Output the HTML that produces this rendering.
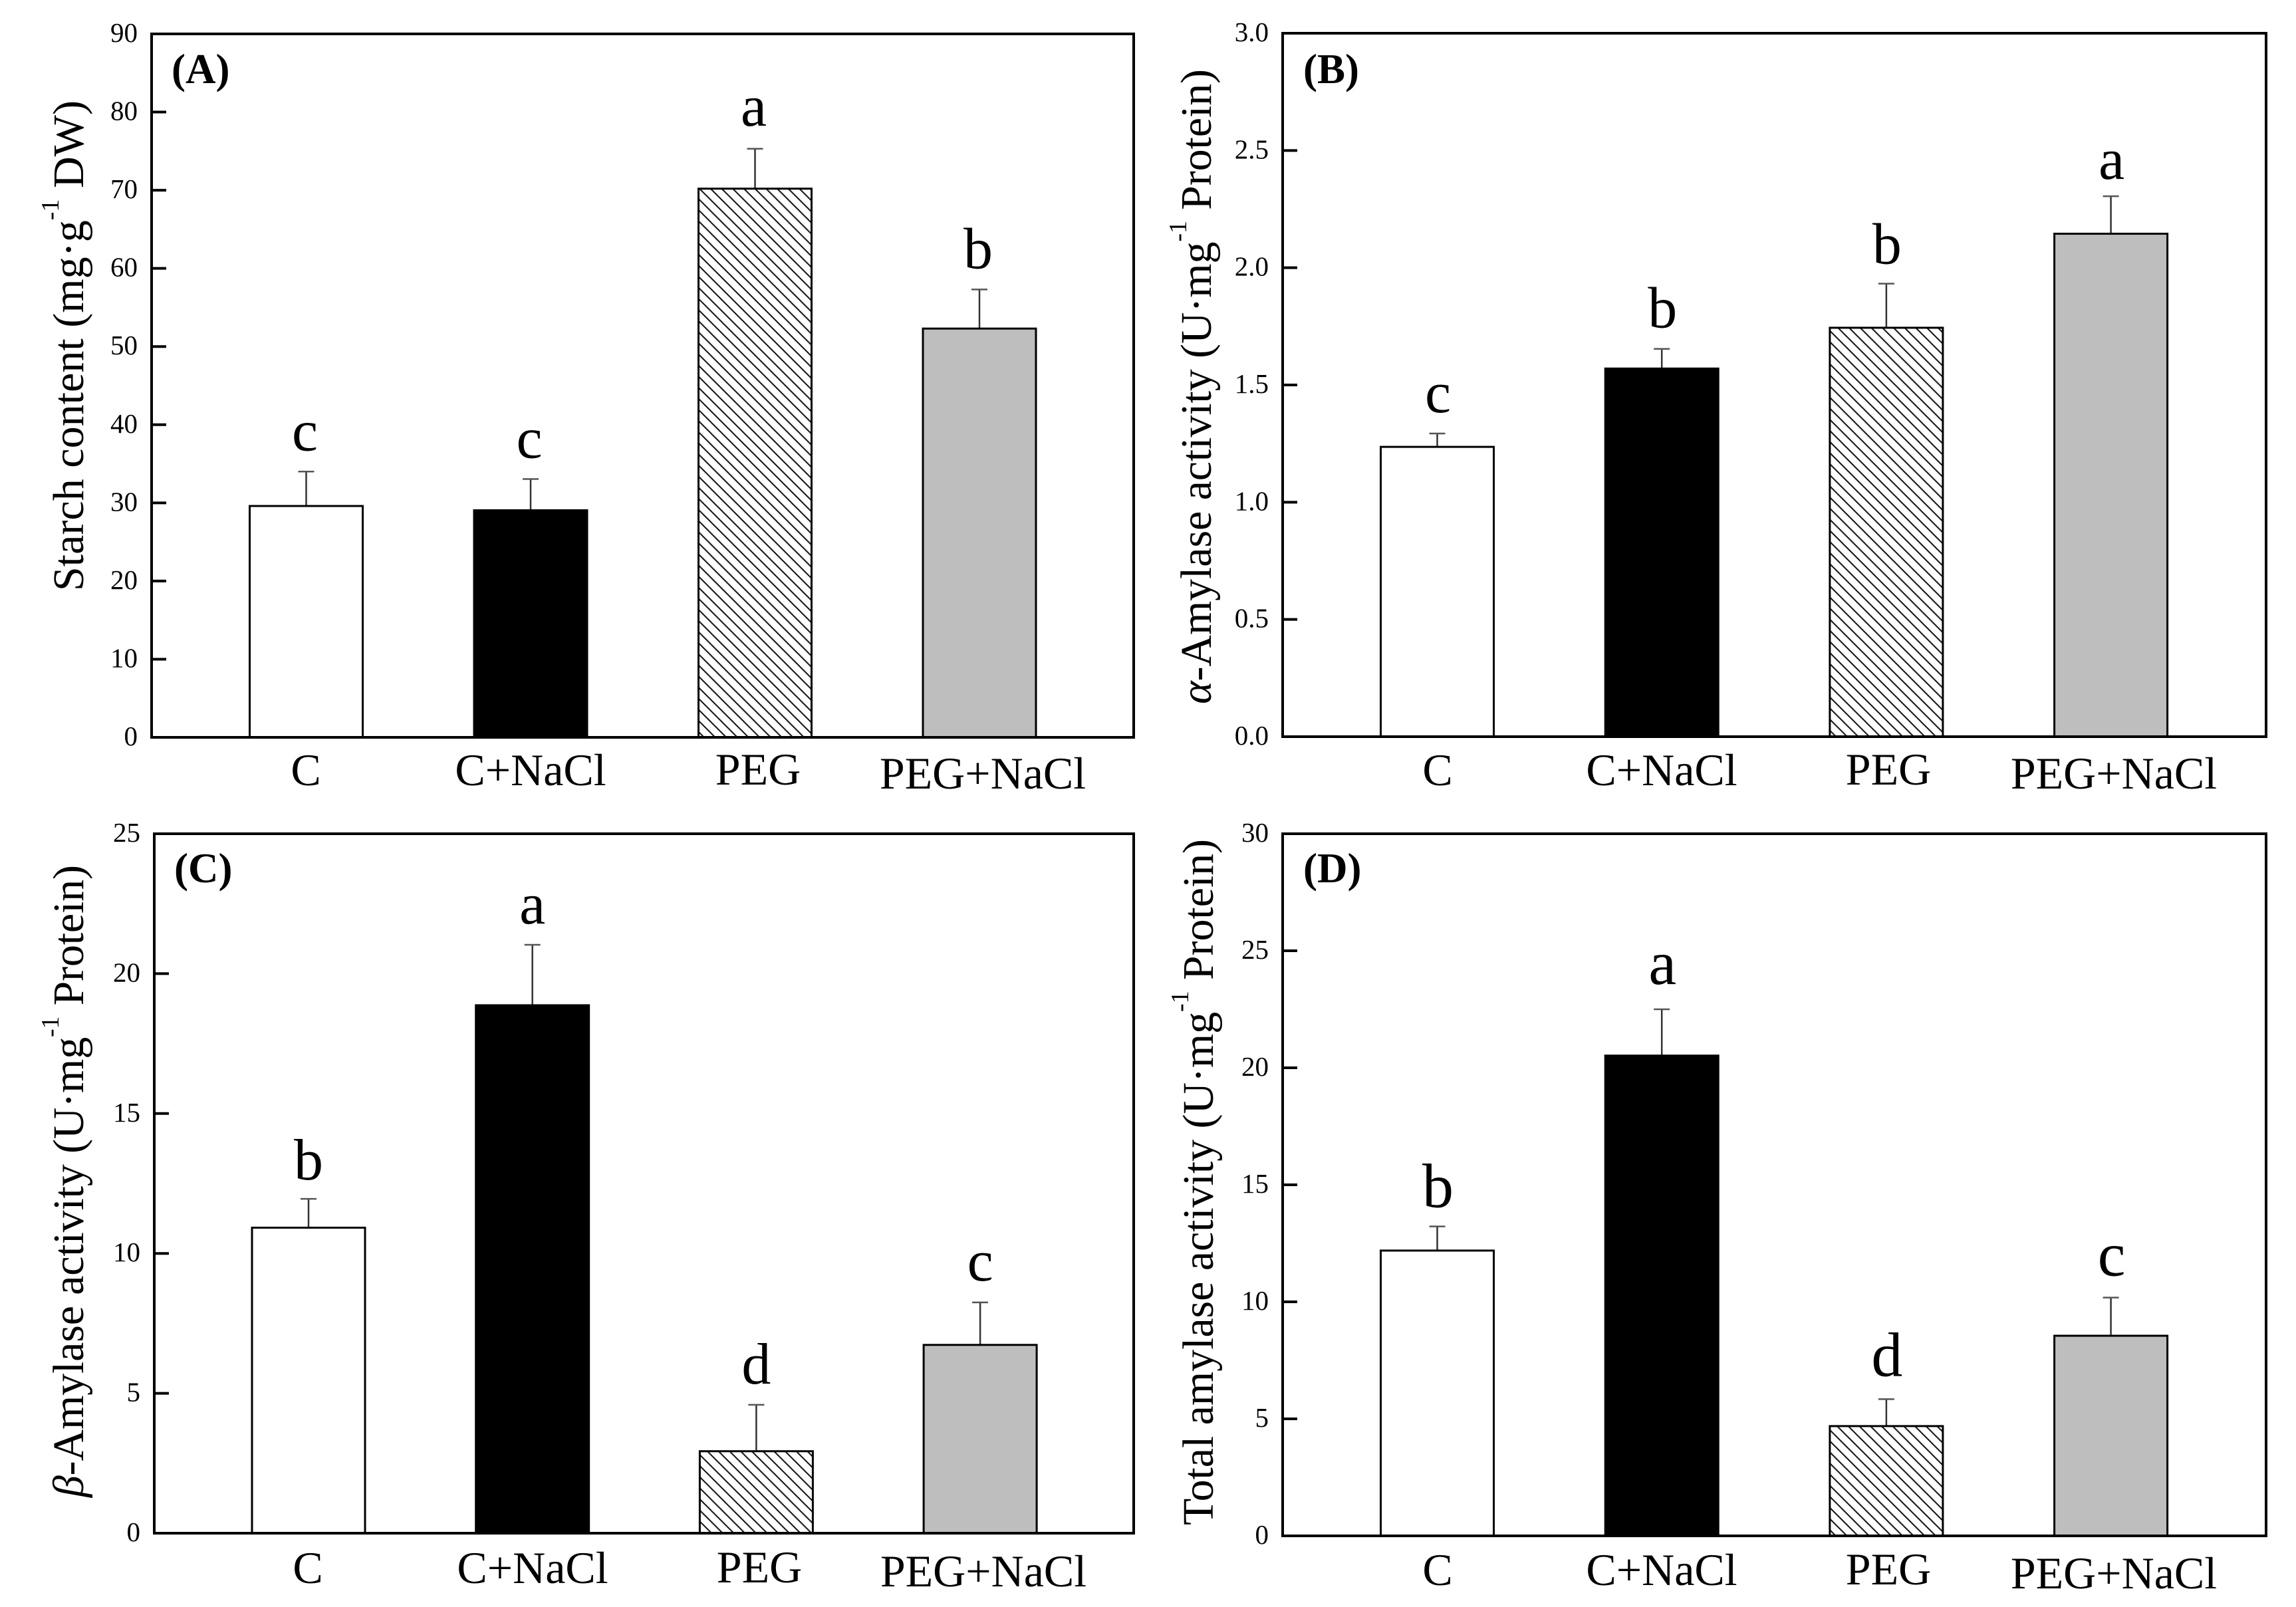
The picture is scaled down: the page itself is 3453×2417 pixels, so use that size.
<!DOCTYPE html>
<html lang="en">
<head>
<meta charset="utf-8">
<title>Starch content and amylase activity</title>
<style>
html,body{margin:0;padding:0;background:#fff;}
svg{display:block;}
text{font-family:"Liberation Serif",serif;fill:#000;}
</style>
</head>
<body>
<svg id="figure" xmlns="http://www.w3.org/2000/svg" width="3453" height="2417" viewBox="0 0 3453 2417">
<defs>
<pattern id="hatch" patternUnits="userSpaceOnUse" width="16.7" height="16.7">
<path d="M-4,-4 L20.7,20.7 M-4,12.7 L4,20.7 M12.7,-4 L20.7,4" stroke="#111" stroke-width="2" fill="none"/>
</pattern>
</defs>
<rect width="3453" height="2417" fill="#fff"/>
<g id="panels"></g>

<text transform="translate(125,889) rotate(-90)" font-size="66" textLength="738" lengthAdjust="spacing">Starch content (mg·g<tspan font-size="38" dy="-37">-1</tspan><tspan dy="37"> DW)</tspan></text>
<text transform="translate(1821,1059) rotate(-90)" font-size="66" textLength="955" lengthAdjust="spacing"><tspan font-style="italic">α</tspan>-Amylase activity (U·mg<tspan font-size="38" dy="-37">-1</tspan><tspan dy="37"> Protein)</tspan></text>
<text transform="translate(125,2252) rotate(-90)" font-size="66" textLength="951" lengthAdjust="spacing"><tspan font-style="italic">β</tspan>-Amylase activity (U·mg<tspan font-size="38" dy="-37">-1</tspan><tspan dy="37"> Protein)</tspan></text>
<text transform="translate(1824,2294) rotate(-90)" font-size="66" textLength="1032" lengthAdjust="spacing">Total amylase activity (U·mg<tspan font-size="38" dy="-37">-1</tspan><tspan dy="37"> Protein)</tspan></text>

<text x="258" y="125" font-size="63" font-weight="bold">(A)</text>
<text x="1960" y="125" font-size="63" font-weight="bold">(B)</text>
<text x="262" y="1327" font-size="63" font-weight="bold">(C)</text>
<text x="1960" y="1327" font-size="63" font-weight="bold">(D)</text>
</svg>

<script>
const categories = ["C", "C+NaCl", "PEG", "PEG+NaCl"];

const ticksA = ["0", "10", "20", "30", "40", "50", "60", "70", "80", "90"];
const meansA = [29.6, 29.05, 70.2, 52.3];
const errorsA = [4.4, 4.0, 5.1, 5.0];
const lettersA = ["c", "c", "a", "b"];

const ticksB = ["0.0", "0.5", "1.0", "1.5", "2.0", "2.5", "3.0"];
const meansB = [1.236, 1.57, 1.744, 2.145];
const errorsB = [0.057, 0.084, 0.188, 0.16];
const lettersB = ["c", "b", "b", "a"];

const ticksC = ["0", "5", "10", "15", "20", "25"];
const meansC = [10.92, 18.87, 2.93, 6.73];
const errorsC = [1.03, 2.16, 1.66, 1.52];
const lettersC = ["b", "a", "d", "c"];

const ticksD = ["0", "5", "10", "15", "20", "25", "30"];
const meansD = [12.19, 20.52, 4.69, 8.55];
const errorsD = [1.03, 1.98, 1.15, 1.63];
const lettersD = ["b", "a", "d", "c"];

const NS = "http://www.w3.org/2000/svg";
const root = document.getElementById("panels");
const BAR_W = 170;

function el(tag, parent, attrs) {
  const n = document.createElementNS(NS, tag);
  for (const k in attrs) n.setAttribute(k, attrs[k]);
  parent.appendChild(n);
  return n;
}

function fillFor(i) {
  return ["#ffffff", "#000000", "url(#hatch)", "#bebebe"][i];
}

function drawPanel(id, frame, ticks, means, errors, letters, letterSize) {
  const g = el("g", root, {});
  
  

  const maxV = parseFloat(ticks[ticks.length - 1]);
  const minV = parseFloat(ticks[0]);
  const yScale = v => frame.bottom - (v - minV) / (maxV - minV) * (frame.bottom - frame.top);
  const xScale = i => frame.firstBar + i * frame.step;

  // bars, whiskers, significance letters
  means.forEach((m, i) => {
    const cx = xScale(i);
    const top = yScale(m);
    const errTop = yScale(m + errors[i]);

    const stem = el("line", g, {x1: cx, x2: cx, y1: top, y2: errTop, stroke: "#333", "stroke-width": 2.5});
    
    

    const cap = el("line", g, {x1: cx - 12, x2: cx + 12, y1: errTop, y2: errTop, stroke: "#555", "stroke-width": 2.5});
    
    

    const bar = el("rect", g, {x: cx - BAR_W / 2, y: top, width: BAR_W, height: frame.bottom - top,
      fill: fillFor(i), stroke: "#000", "stroke-width": 3});
    
    

    const letter = el("text", g, {x: cx + frame.letterNudge, y: errTop - frame.letterGap(i), "font-size": letterSize, "text-anchor": "middle"});
    letter.textContent = letters[i];
    
    

    const xLabel = el("text", g, {x: frame.labelX(i), y: frame.labelY(i), "font-size": 68, "text-anchor": "middle"});
    xLabel.textContent = categories[i];
    
    
  });

  // y ticks and labels
  ticks.forEach(t => {
    const y = yScale(parseFloat(t));
    const tick = el("line", g, {x1: frame.left, x2: frame.left + 22, y1: y, y2: y, stroke: "#000", "stroke-width": 4});
    
    

    const label = el("text", g, {x: frame.left - 21, y: y + 12, "font-size": 41, "text-anchor": "end"});
    label.textContent = t;
    
    
  });

  const box = el("rect", g, {x: frame.left, y: frame.top, width: frame.right - frame.left,
    height: frame.bottom - frame.top, fill: "none", stroke: "#000", "stroke-width": 4});
  
  
}

const labelLift = [0, 0, -1, 5];

drawPanel("a",
  {left: 228, right: 1705, top: 51, bottom: 1109, firstBar: 460.5, step: 337.5, letterNudge: -2,
   letterGap: i => [32, 32, 35, 32][i],
   labelX: i => [460, 798, 1140, 1478][i], labelY: i => 1181 + labelLift[i]},
  ticksA, meansA, errorsA, lettersA, 88);

drawPanel("b",
  {left: 1929, right: 3408, top: 50, bottom: 1108, firstBar: 2161.5, step: 337.7, letterNudge: 1,
   letterGap: i => [32, 32, 30, 26][i],
   labelX: i => [2162, 2499, 2840, 3179][i], labelY: i => 1181 + labelLift[i]},
  ticksB, meansB, errorsB, lettersB, 88);

drawPanel("c",
  {left: 232, right: 1705, top: 1254, bottom: 2306, firstBar: 464, step: 336.7, letterNudge: 0,
   letterGap: i => [29, 32, 32, 33][i],
   labelX: i => [463, 801, 1142, 1479][i], labelY: i => 2381 + labelLift[i]},
  ticksC, meansC, errorsC, lettersC, 88);

drawPanel("d",
  {left: 1929, right: 3408, top: 1254, bottom: 2310, firstBar: 2161.5, step: 337.7, letterNudge: 1,
   letterGap: i => [29, 38, 35, 33][i],
   labelX: i => [2162, 2499, 2840, 3179][i], labelY: i => 2384 + labelLift[i]},
  ticksD, meansD, errorsD, lettersD, 94);
</script>
</body>
</html>
